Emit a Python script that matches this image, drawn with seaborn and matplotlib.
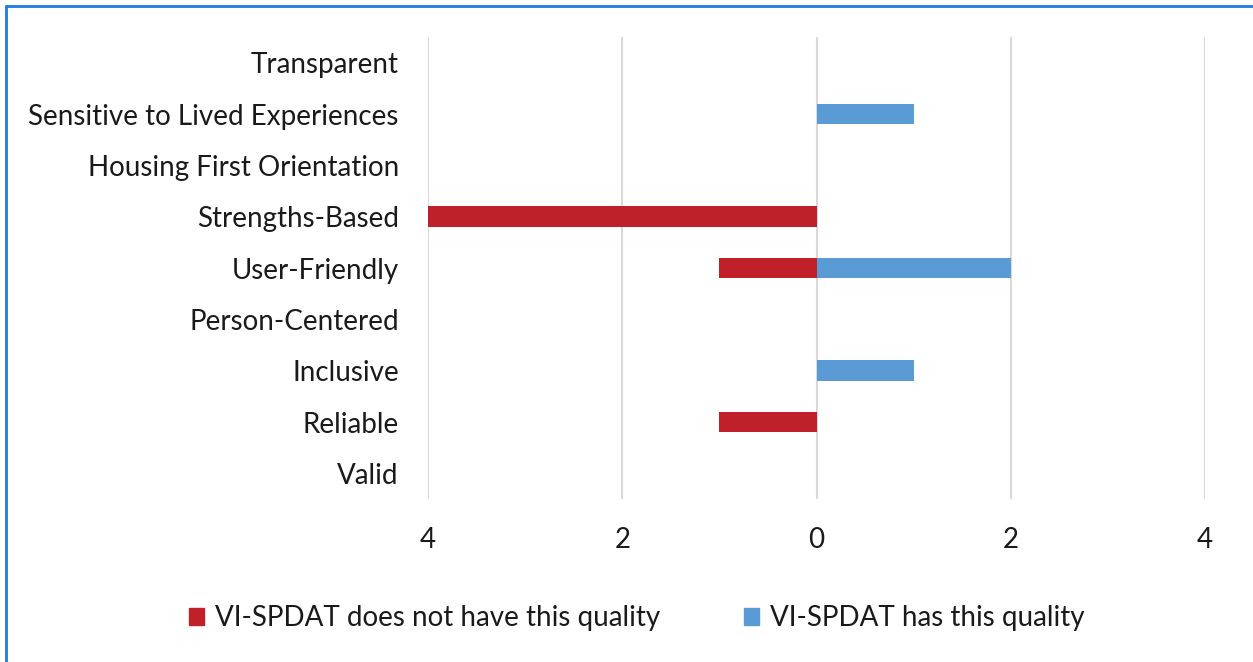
import pandas as pd
import seaborn as sns
import matplotlib.pyplot as plt
from matplotlib.ticker import FuncFormatter
from matplotlib.patches import Patch
from matplotlib.lines import Line2D

# categories from top to bottom
qualities = ['Transparent', 'Sensitive to Lived Experiences', 'Housing First Orientation',
             'Strengths-Based', 'User-Friendly', 'Person-Centered', 'Inclusive',
             'Reliable', 'Valid']
does_not_have = [0, 0, 0, 4, 1, 0, 0, 1, 0]
has_quality = [0, 1, 0, 0, 2, 0, 1, 0, 0]
series_names = ['VI-SPDAT does not have this quality', 'VI-SPDAT has this quality']

red = '#C0202A'
blue = '#5B9BD5'

# long form table, negative side for "does not have"
df = pd.DataFrame({
    'Quality': qualities * 2,
    'Count': [-v for v in does_not_have] + has_quality,
    'Series': [series_names[0]] * len(qualities) + [series_names[1]] * len(qualities),
})

sns.set_style('white')
plt.rcParams['font.family'] = ['Lato', 'DejaVu Sans']

fig = plt.figure(figsize=(12.53, 6.62), dpi=100)
ax = fig.add_axes([0.3416, 0.2462, 0.6201, 0.6978])

sns.barplot(data=df, y='Quality', x='Count', hue='Series', order=qualities,
            hue_order=series_names, palette=[red, blue], dodge=False,
            width=0.4, orient='h', ax=ax, legend=False, saturation=1,
            linewidth=0, edgecolor='none')

ax.set_xlim(-4, 4)
ax.set_xticks([-4, -2, 0, 2, 4])
ax.xaxis.set_major_formatter(FuncFormatter(lambda v, p: f'{abs(v):g}'))
ax.set_ylim(len(qualities) - 0.5, -0.5)
ax.grid(axis='x', color='#D9D9D9', linewidth=1.5)
ax.set_axisbelow(True)
for s in ax.spines.values():
    s.set_visible(False)
ax.set_xlabel('')
ax.set_ylabel('')
ax.tick_params(axis='both', length=0, labelsize=20, colors='#1a1a1a')
ax.tick_params(axis='y', pad=21)
ax.tick_params(axis='x', pad=20)

handles = [Patch(color=red), Patch(color=blue)]
fig.legend(handles, series_names, loc='center', bbox_to_anchor=(0.508, 0.066),
           ncol=2, frameon=False, fontsize=20, handlelength=0.55, handleheight=0.55,
           handletextpad=0.4, columnspacing=3.0, labelcolor='#1a1a1a')

# blue frame at top and left
fig.add_artist(Line2D([0.005, 1.0], [0.991, 0.991], color='#1E7BE0', linewidth=2))
fig.add_artist(Line2D([0.005, 0.005], [0.0, 0.991], color='#1E7BE0', linewidth=2))

fig.savefig('out.png', dpi=100)
